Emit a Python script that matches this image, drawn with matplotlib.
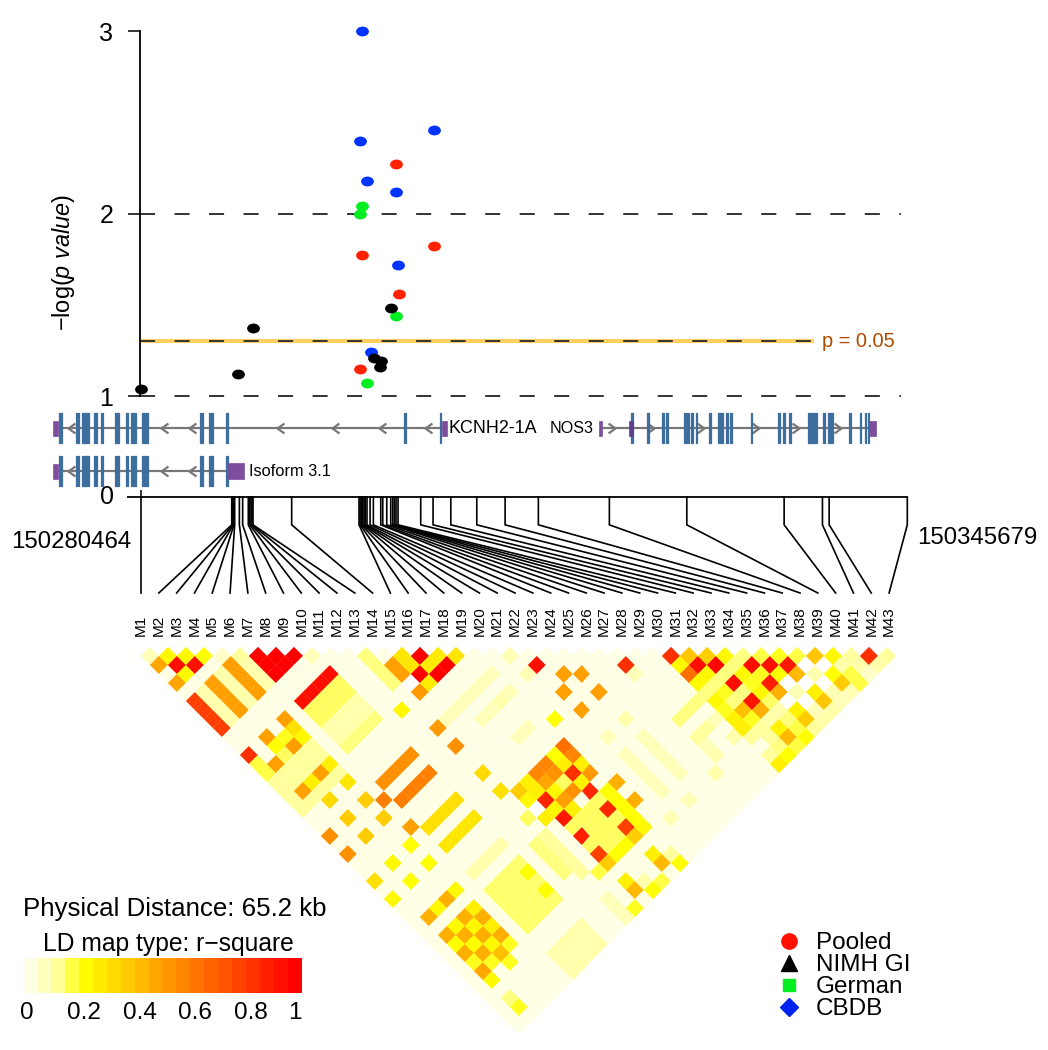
import matplotlib
matplotlib.use("Agg")
import matplotlib.pyplot as plt
import numpy as np
from matplotlib.colors import LinearSegmentedColormap
from matplotlib.lines import Line2D
from matplotlib.markers import MarkerStyle
from matplotlib.path import Path
from matplotlib.transforms import Affine2D

plt.rcParams['font.family'] = ['Liberation Sans', 'DejaVu Sans']
plt.rcParams['mathtext.fontset'] = 'custom'
plt.rcParams['mathtext.rm'] = 'Liberation Sans'
plt.rcParams['mathtext.it'] = 'Liberation Sans:italic'

# association results, position in kb from M1 and -log(p)
blue_x = [18.81, 18.64, 24.93, 19.23, 21.70, 21.87, 19.57]
blue_y = [3.0, 2.40, 2.46, 2.18, 2.12, 1.72, 1.24]
red_x = [21.70, 24.93, 18.81, 21.95, 18.64]
red_y = [2.27, 1.82, 1.77, 1.56, 1.15]
green_x = [18.81, 18.64, 21.70, 19.23]
green_y = [2.04, 2.00, 1.44, 1.07]
black_x = [0.0, 9.53, 8.25, 21.28, 19.83, 20.42, 20.34]
black_y = [1.04, 1.37, 1.12, 1.48, 1.21, 1.19, 1.16]

# marker positions in kb
marker_kb = [0, 7.72, 7.80, 7.85, 7.91, 7.97, 8.37, 8.65, 9.13, 9.25, 9.36, 9.45,
             9.53, 12.82, 18.55, 18.64, 18.75, 18.87, 18.98, 19.09, 19.23, 19.49,
             19.77, 20.40, 20.57, 20.91, 21.25, 21.42, 21.56, 21.70, 21.87, 23.80,
             24.85, 26.36, 28.57, 30.98, 33.81, 39.85, 46.44, 54.72, 57.98, 58.55, 65.2]
marker_names = ['M%d' % (n + 1) for n in range(43)]

# gene models, exon centre and width in kb
kcnh2_exons = [(-6.87, .28), (-5.39, .23), (-4.96, .17), (-4.74, .17), (-4.54, .23),
               (-3.89, .23), (-3.35, .17), (-2.04, .26), (-1.19, .23), (-.65, .40),
               (.34, .51), (5.14, .23), (5.96, .40), (7.29, .2), (22.47, .17), (25.5, .09)]
kcnh2_arrows = [-6.18, 1.67, 4.11, 11.55, 16.23, 20.28, 24.17]
iso_exons = kcnh2_exons[:14]
iso_arrows = kcnh2_arrows[:3]
nos3_exons = [41.81, 43.15, 44.39, 44.76, 46.32, 46.52, 46.89, 47.26, 48.45, 49.19,
              49.47, 49.84, 50.18, 51.94, 54.32, 54.69, 55.2, 56.85, 57.08, 57.25,
              57.44, 58.10, 58.52, 58.81, 60.31, 61.22, 61.64, 61.9]
nos3_arrows = [40.34, 43.66, 47.86, 52.54, 56.0, 59.54]

# LD r-square: (first i, last i, first j, last j, value), markers counted from 1
ld_blocks = [
    (2, 2, 7, 10, .08), (4, 4, 7, 10, .08), (6, 6, 7, 10, .08),
    (5, 5, 7, 10, .5), (3, 3, 7, 10, .5), (1, 1, 7, 10, .8),
    (7, 9, 8, 10, 1), (7, 10, 13, 13, .95), (7, 10, 14, 15, .14),
    (7, 10, 16, 17, .08), (7, 10, 18, 18, .12), (13, 13, 14, 17, .12),
    (1, 5, 16, 19, .1), (7, 10, 22, 22, .55), (7, 10, 24, 24, .6),
    (7, 10, 27, 27, .3), (7, 10, 29, 29, .28), (7, 10, 32, 32, .08),
    (7, 10, 34, 38, .13), (7, 10, 41, 43, .08), (14, 19, 22, 22, .06),
    (16, 19, 24, 24, .06), (24, 24, 34, 38, .06), (22, 22, 34, 38, .06),
    (27, 30, 35, 35, .12), (15, 19, 35, 39, .14), (19, 19, 35, 39, .2),
    (14, 19, 30, 33, .14), (30, 36, 36, 40, .1), (13, 13, 34, 38, .1),
    (13, 13, 41, 43, .06), (12, 12, 34, 37, .12),
]

# single cells: (i, j, value)
ld_cells = [
    (1, 2, .06), (2, 3, .22), (3, 4, .22), (4, 5, .2), (5, 6, .04), (6, 7, .1), (10, 11, .06),
    (1, 3, .48), (2, 4, .95), (3, 5, .95), (2, 5, .22), (1, 5, .48),
    (14, 16, .5), (14, 17, .5), (15, 16, .28), (15, 17, .28), (16, 17, 1), (15, 18, 1),
    (16, 18, .26), (17, 18, .26), (16, 19, 1), (17, 19, 1), (18, 19, .28), (15, 19, .26),
    (14, 19, .52), (14, 18, -1), (12, 19, .22), (13, 22, .52), (13, 24, .55),
    (5, 13, .5), (3, 13, .5), (1, 13, .85), (5, 14, .3), (5, 15, .22), (3, 14, .2),
    (3, 15, .14), (4, 15, .5), (1, 14, .16), (1, 15, .16), (2, 15, .5), (4, 14, .18),
    (4, 18, .5), (3, 18, .25), (2, 18, .5), (5, 18, .25), (3, 20, .32), (5, 20, .28),
    (5, 22, .36), (3, 22, .36), (1, 22, .55), (3, 24, .36), (1, 24, .55), (6, 23, .6),
    (5, 24, .36), (6, 26, .5), (13, 27, .32), (13, 29, .3), (14, 30, .36),
    (5, 27, .2), (3, 27, .22), (1, 27, .3), (5, 29, .2), (3, 29, .2), (1, 29, .22),
    (5, 32, .22), (4, 32, .45), (3, 32, .22), (2, 32, .45), (5, 34, .25), (4, 34, .45),
    (5, 35, .45), (3, 34, .22), (4, 35, .22), (5, 36, .25), (2, 34, .45), (3, 35, .45),
    (4, 36, .45), (5, 37, .45), (2, 35, .2), (3, 36, .2), (4, 37, .22), (5, 38, .18),
    (2, 36, .45), (3, 37, .45), (4, 38, .4), (2, 37, .18), (3, 38, .18), (4, 39, .18),
    (2, 38, .48), (2, 39, .22), (2, 41, .12), (2, 42, .18),
    (21, 22, .07), (22, 24, .95), (27, 29, .85), (23, 26, .5), (24, 27, .5), (22, 27, .5),
    (24, 29, .5), (22, 29, .5), (20, 28, .2), (24, 32, .08), (21, 24, .07), (27, 30, .07),
    (19, 24, .07), (18, 24, .08), (18, 27, .06), (17, 27, .06), (22, 32, .06),
    (23, 40, .07), (21, 40, .07), (19, 30, .65), (19, 31, .58), (17, 30, .58), (16, 30, .58),
    (17, 31, .55), (16, 31, .48), (18, 32, .85), (19, 33, .52), (18, 31, .25), (18, 30, .2),
    (19, 32, .25), (18, 33, .24), (18, 34, .88), (17, 33, .55), (16, 33, .5), (15, 32, .88),
    (16, 32, .22), (15, 31, .25), (15, 30, .25), (20, 35, .45), (20, 37, .45), (15, 34, .92),
    (18, 36, .88), (18, 38, .8), (15, 36, .9), (15, 38, .8), (14, 33, .25), (14, 32, -1),
    (13, 32, .14), (15, 33, .22), (16, 34, .25), (19, 39, .22), (18, 39, .36), (15, 39, .36),
    (16, 39, .2), (17, 39, .2), (14, 31, .22),
    (30, 31, .85), (31, 32, .38), (32, 33, .35), (33, 34, .22), (34, 35, .12), (35, 36, .16),
    (36, 37, .18), (37, 38, .16), (38, 39, .38), (39, 40, .22), (40, 41, .1), (41, 42, .85),
    (42, 43, .1), (30, 32, .22), (31, 33, .95), (32, 34, .98), (33, 35, .12), (34, 36, .95),
    (35, 37, .95), (36, 38, .92), (37, 39, -1), (38, 40, -1), (39, 41, .08), (40, 42, .08),
    (41, 43, .08), (30, 33, .65), (31, 34, .22), (32, 35, .12), (33, 36, .22), (34, 37, .18),
    (35, 38, .2), (36, 39, .42), (37, 40, .08), (38, 41, .2), (39, 42, .16), (40, 43, .04),
    (30, 34, .22), (31, 35, .12), (32, 36, .95), (33, 37, .18), (34, 38, .9), (35, 39, -1),
    (36, 40, -1), (37, 41, -1), (38, 42, .36), (39, 43, .16), (30, 35, .12), (31, 36, .18),
    (32, 37, .12), (33, 38, .22), (34, 39, .45), (35, 40, .07), (36, 41, .25), (37, 42, .07),
    (38, 43, .07), (30, 36, .22), (31, 37, .12), (32, 38, .93), (33, 39, .14), (34, 40, -1),
    (35, 41, -1), (36, 42, .38), (37, 43, .06), (31, 38, .4), (32, 39, .45), (30, 37, .18),
    (33, 40, .08), (34, 41, .24), (35, 42, .06), (36, 43, .08), (30, 38, .24), (31, 39, .18),
    (29, 37, .06), (32, 40, .08), (33, 41, .12), (34, 42, .36), (35, 43, .08), (30, 39, .25),
    (28, 37, .1), (27, 37, .1), (29, 39, .08), (32, 41, .24), (33, 42, .16), (34, 43, .1),
    (31, 41, .1), (32, 42, .42), (33, 43, .2), (27, 38, .07), (31, 42, .12), (32, 43, .16),
    (30, 42, .1), (31, 43, .2), (27, 39, .08), (30, 43, .25), (26, 40, .08),
    (18, 41, .25), (18, 42, .42), (19, 43, .2), (19, 42, .1), (15, 41, .25), (15, 42, .42),
    (16, 43, .2), (16, 42, .08), (17, 43, .16), (14, 43, .18), (14, 39, .16), (13, 38, .1),
    (10, 35, .2), (10, 37, .2),
]

# colour bar tick labels
bar_ticks = [0, 0.2, 0.4, 0.6, 0.8, 1]
bar_tick_names = ['0', '0.2', '0.4', '0.6', '0.8', '1']

legend_names = ['Pooled', 'NIMH GI', 'German', 'CBDB']
W, H = 1048, 1050


def add_ax(left, top, right, bottom):
    ax = fig.add_axes([left / W, 1 - bottom / H, (right - left) / W, (bottom - top) / H])
    ax.patch.set_alpha(0)
    return ax


fig = plt.figure(figsize=(10.48, 10.5), dpi=100)

# top panel
ax = add_ax(141, 31, 907.3, 396)
ax.set_xlim(0, 65.2)
ax.set_ylim(1, 3)
for s in ['top', 'right', 'bottom']:
    ax.spines[s].set_visible(False)
ax.spines['left'].set_linewidth(1.3)
ax.spines['left'].set_position(('outward', 1))
ax.set_xticks([])
ax.set_yticks([1, 2, 3])
ax.tick_params(axis='y', length=9, width=1.1, labelsize=18, pad=10)
ax.hlines(1.301, 0, 57.3, color='#FFD060', lw=3, clip_on=False, zorder=1)
dash = (0, (7.75, 10))
ax.hlines([1, 2], -0.1, 64.68, color='#333333', lw=1.4, linestyles=[dash], clip_on=False, zorder=2)
ax.hlines(1.301, -0.1, 57.3, color='#333333', lw=1.4, linestyles=[dash], clip_on=False, zorder=2)
ax.text(57.95, 1.301, 'p = 0.05', color='#B04A00', fontsize=14.4, va='center')
ax.text(-6.6, 1.73, r'$-$log($\mathit{p\ value}$)', rotation=90, fontsize=16.9, ha='center', va='center')
oval = MarkerStyle(Path.unit_circle().transformed(Affine2D().scale(1.3, 1)))
for xs, ys, c in [(blue_x, blue_y, '#0033FF'), (red_x, red_y, '#FF2200'),
                  (green_x, green_y, '#00EE22'), (black_x, black_y, 'black')]:
    ax.scatter(xs, ys, s=85, marker=oval, color=c, linewidths=0, clip_on=False, zorder=3)

# gene models
gax = add_ax(141, 405, 907.3, 497)
gax.set_xlim(0, 65.2)
gax.set_ylim(92, 0)
gax.axis('off')
chevron_left = Path([(1.4, 1), (0, 0), (1.4, -1)], [Path.MOVETO, Path.LINETO, Path.LINETO])
chevron_right = Path([(-1.4, 1), (0, 0), (-1.4, -1)], [Path.MOVETO, Path.LINETO, Path.LINETO])


def draw_gene(lane, start, end, exons, arrows, mark):
    gax.plot([start, end], [lane, lane], color='#777777', lw=1.6, clip_on=False, zorder=1)
    for e in exons:
        c, w = e if isinstance(e, tuple) else (e, .16)
        gax.fill_between([c - w / 2, c + w / 2], lane - 15, lane + 15, color='#3E6E9E', lw=0.9, clip_on=False, zorder=2)
    for a in arrows:
        gax.plot([a], [lane], marker=mark, ms=10, mfc='none', mec='#777777', mew=1.6, ls='none', clip_on=False, zorder=1)


def purple(lane, x0, x1, half, c='#7E4E9E'):
    gax.fill_between([x0, x1], lane - half, lane + half, color=c, lw=0.5, clip_on=False, zorder=3)


draw_gene(23, -7.09, 25.6, kcnh2_exons, kcnh2_arrows, chevron_left)
draw_gene(66, -7.09, 7.3, iso_exons, iso_arrows, chevron_left)
draw_gene(23, 39.2, 62, nos3_exons, nos3_arrows, chevron_right)
purple(23, -7.52, -7.09, 7.5)
purple(66, -7.52, -7.09, 7.5)
purple(23, 25.59, 26.02, 7.5)
purple(66, 7.43, 8.77, 8)
purple(23, 39.0, 39.2, 7.5)
purple(23, 41.56, 41.84, 7.5, '#5E3E8E')
purple(23, 61.98, 62.55, 7.5)
gax.text(26.2, 23.5, 'KCNH2-1A', fontsize=12.9, va='center')
gax.text(34.75, 23.5, 'NOS3', fontsize=11.6, va='center')
gax.text(9.2, 67, 'Isoform 3.1', fontsize=11.8, va='center')

# connector lines to the marker names
lax = add_ax(141, 497, 907.3, 593)
lax.set_xlim(0, 65.2)
lax.set_ylim(1, 0)
lax.axis('off')
label_kb = np.linspace(0, 63.65, 43)
lax.hlines(0, -1.2, 65.2, color='black', lw=1.3, clip_on=False)
lax.vlines(0, -0.07, 0, color='black', lw=1.1, clip_on=False)
for kb, lab, name in zip(marker_kb, label_kb, marker_names):
    lax.plot([kb, kb, lab], [0, 0.29, 1], color='black', lw=1.2, clip_on=False, solid_joinstyle='miter')
    lax.text(lab, 1.45, name, rotation=90, fontsize=11, ha='center', va='bottom')
lax.text(-2.3, 0, '0', fontsize=18, ha='right', va='center')
lax.text(-0.8, 0.47, '150280464', fontsize=17.3, ha='right', va='center')
lax.text(66.0, 0.43, '150345679', fontsize=17.3, ha='left', va='center')

# LD triangle, cells at -1 are white
ld = np.full((43, 43), 0.0)
for i0, i1, j0, j1, v in ld_blocks:
    ld[i0 - 1:i1, j0 - 1:j1] = v
for i, j, v in ld_cells:
    ld[i - 1, j - 1] = v
ld = np.ma.masked_where(np.tri(43, 43, 0, dtype=bool), ld)
heat = LinearSegmentedColormap.from_list('ld', [(0, '#FFFFE6'), (.1, '#FFFF9C'), (.2, '#FFFF00'), (.6, '#FF8000'), (1, '#FF0000')], N=256)
heat.set_under('white')
mx = add_ax(132, 647, 905.14, 1033.57)
mx.set_xlim(0, 86)
mx.set_ylim(43, 0)
mx.axis('off')
ii, jj = np.meshgrid(np.arange(44), np.arange(44), indexing='ij')
mx.pcolormesh(ii + jj, jj - ii, ld, cmap=heat, vmin=0, vmax=1, edgecolors='face', linewidth=0.15, antialiased=True)

# colour bar
bx = add_ax(23, 958, 302, 993)
bx.imshow(np.linspace(0, 1, 20)[None, :], cmap=heat, vmin=0, vmax=1, aspect='auto', extent=(0, 1, 0, 1))
bx.set_xlim(0, 1)
bx.axis('off')
for t, name in zip(bar_ticks, bar_tick_names):
    if t == 0:
        bx.text(-0.01, -0.58, name, fontsize=17.5, ha='left', va='center')
    elif t == 1:
        bx.text(1, -0.58, name, fontsize=17.5, ha='right', va='center')
    else:
        bx.text(t + 0.018, -0.58, name, fontsize=17.5, ha='center', va='center')
bx.text(0.545, 2.4, 'Physical Distance: 65.2 kb', fontsize=18.6, ha='center', va='center', clip_on=False)
bx.text(0.52, 1.4, 'LD map type: r\u2212square', fontsize=17.7, ha='center', va='center', clip_on=False)

handles = [Line2D([], [], ls='none', marker='o', ms=11, color='#FF1100'),
           Line2D([], [], ls='none', marker='^', ms=12, color='black'),
           Line2D([], [], ls='none', marker='s', ms=9, color='#00EE22'),
           Line2D([], [], ls='none', marker='D', ms=9, color='#0022EE')]
fig.legend(handles, legend_names, loc='upper left', bbox_to_anchor=(770 / W, 1 - 932 / H), frameon=False,
           fontsize=17.5, labelspacing=0.0, handletextpad=0.3, borderpad=0, borderaxespad=0, handlelength=1.6)

fig.savefig('out.png', dpi=100)
